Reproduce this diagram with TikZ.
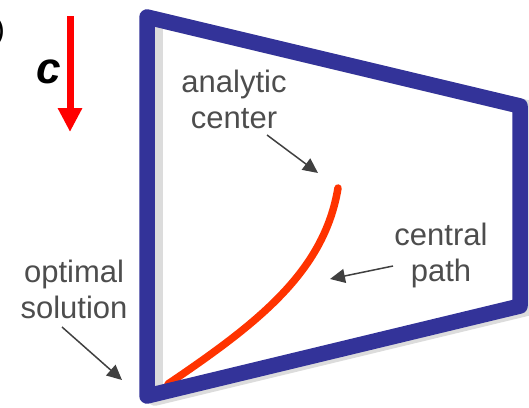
\documentclass[tikz,border=0pt]{standalone}
\usepackage{fontspec}
\setmainfont{Liberation Sans}
\usetikzlibrary{arrows.meta}
\definecolor{polyblue}{RGB}{51,51,153}
\definecolor{shadowgray}{RGB}{220,220,220}
\definecolor{pathred}{RGB}{255,51,0}
\definecolor{labelgray}{RGB}{77,77,77}
\definecolor{arrowgray}{RGB}{64,64,64}
\begin{document}
\begin{tikzpicture}[x=1pt,y=-1pt,
  lbl/.style={inner sep=0pt, text=labelgray, font=\fontsize{31}{36}\selectfont, anchor=base},
  pointer/.style={draw=arrowgray, line width=1.5pt, -{Triangle[length=15pt,width=14pt]}},
  frame/.style={line width=15.5pt, line join=round},
]
\useasboundingbox (0,0) rectangle (529,407);
% corners of the feasible region
\coordinate (p1) at (147,17);
\coordinate (p2) at (520,106);
\coordinate (p3) at (520,306);
\coordinate (p4) at (147,396);
% shadow
\draw[frame, shadowgray] ([shift={(8,2)}]p1) -- ([shift={(8,2)}]p2) -- ([shift={(8,2)}]p3) -- ([shift={(8,2)}]p4) -- cycle;
% central path
\coordinate (cpstart) at (168,384);
\coordinate (cpend) at (338,188);
\draw[pathred, line width=7.5pt, line cap=round] (cpstart) .. controls (258,323) and (324,272) .. (cpend);
% frame
\draw[frame, polyblue] (p1) -- (p2) -- (p3) -- (p4) -- cycle;
% cost vector
\coordinate (c1) at (70,16);
\coordinate (c2) at (70,132);
\draw[red, line width=7pt, -{Triangle[length=24pt,width=23pt]}] (c1) -- (c2);
\node[inner sep=0pt, font=\fontsize{44}{44}\selectfont\bfseries\itshape, anchor=base] (cvec) at (49,83) {c};
\node[inner sep=0pt, font=\fontsize{30}{30}\selectfont, anchor=base east] (paren) at (5,39) {)};
% labels
\node[lbl] (ac) at (234,92) {\begin{tabular}[t]{@{}c@{}}analytic\\center\end{tabular}};
\node[lbl] (cp) at (441,245) {\begin{tabular}[t]{@{}c@{}}central\\path\end{tabular}};
\node[lbl] (os) at (74,282) {\begin{tabular}[t]{@{}c@{}}optimal\\solution\end{tabular}};
% pointers
\coordinate (a1) at (267,135);
\coordinate (a2) at (318,173);
\coordinate (b1) at (393,266);
\coordinate (b2) at (330,279);
\coordinate (o1) at (62,327);
\coordinate (o2) at (122,380);
\draw[pointer] (a1) -- (a2);
\draw[pointer] (b1) -- (b2);
\draw[pointer] (o1) -- (o2);
\end{tikzpicture}
\end{document}
